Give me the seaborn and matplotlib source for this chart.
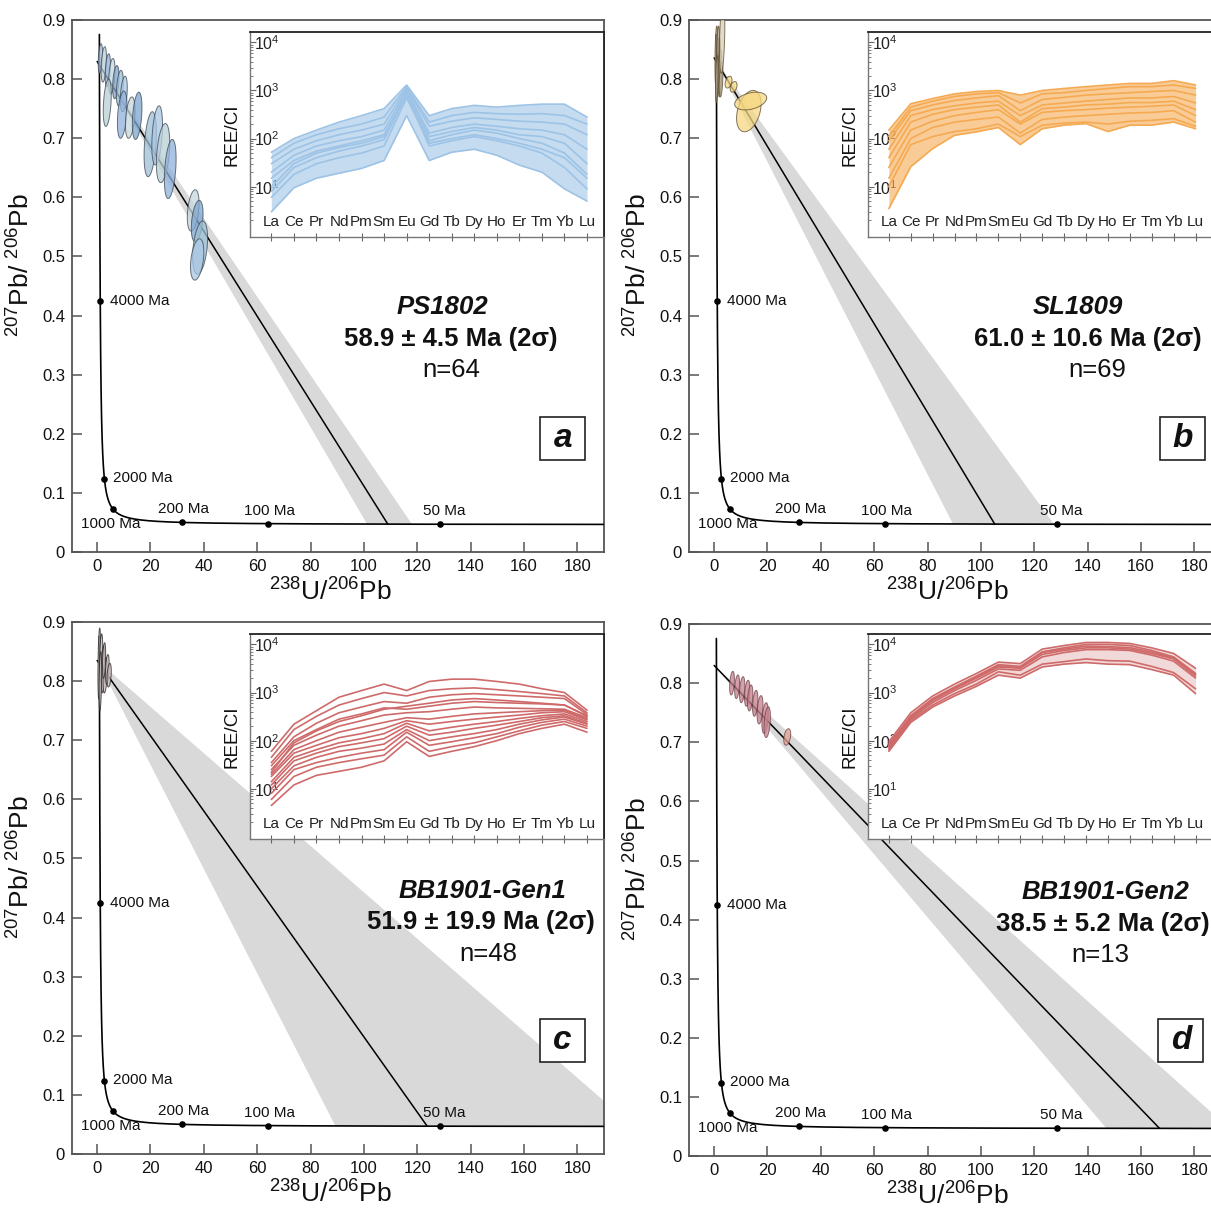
import numpy as np
import pandas as pd
import seaborn as sns
import matplotlib.pyplot as plt
from matplotlib.patches import Polygon, Rectangle

sns.set_theme(style='ticks')
plt.rcParams['font.family'] = ['Liberation Sans', 'DejaVu Sans']
plt.rcParams['mathtext.fontset'] = 'custom'
plt.rcParams['mathtext.rm'] = 'Liberation Sans'
plt.rcParams['mathtext.it'] = 'Liberation Sans:italic'
plt.rcParams['mathtext.bf'] = 'Liberation Sans:bold'

# decay constants for the Tera-Wasserburg concordia
L238 = 1.55125e-10
L235 = 9.8485e-10
U_RATIO = 137.88

# samples
samples = ['PS1802', 'SL1809', 'BB1901-Gen1', 'BB1901-Gen2']
ages = [58.9, 61.0, 51.9, 38.5]
age_err = [4.5, 10.6, 19.9, 5.2]
n_spots = [64, 69, 48, 13]
pb_common = [0.830, 0.836, 0.835, 0.830]   # 207Pb/206Pb intercept
letters = ['a', 'b', 'c', 'd']

mark_ages = [4000, 2000, 1000, 200, 100, 50]
x_ticks = [0, 20, 40, 60, 80, 100, 120, 140, 160, 180]
y_ticks = [0, 0.1, 0.2, 0.3, 0.4, 0.5, 0.6, 0.7, 0.8, 0.9]
y_ticklabels = ['0', '0.1', '0.2', '0.3', '0.4', '0.5', '0.6', '0.7', '0.8', '0.9']

# ellipses: centre x, centre y, half-width x, half-height y
ell_a_x = [1.2, 2.5, 4.0, 5.5, 7.0, 8.5, 10.0, 3.8, 9.4, 12.4, 15.0, 19.9, 22.5, 24.7, 27.4, 36.0, 37.5, 38.6, 37.5]
ell_a_y = [0.835, 0.825, 0.815, 0.805, 0.795, 0.785, 0.775, 0.760, 0.740, 0.735, 0.738, 0.690, 0.705, 0.675, 0.648, 0.578, 0.560, 0.515, 0.495]
ell_a_sx = [0.8, 1.0, 1.0, 1.2, 1.2, 1.3, 1.3, 1.5, 1.8, 1.8, 1.8, 2.3, 2.0, 2.5, 2.2, 2.2, 2.2, 2.8, 2.5]
ell_a_sy = [0.025, 0.030, 0.028, 0.030, 0.028, 0.030, 0.030, 0.040, 0.040, 0.035, 0.040, 0.055, 0.050, 0.050, 0.050, 0.035, 0.035, 0.045, 0.035]

ell_b_x = [0.8, 1.3, 1.8, 2.2, 1.5, 2.6, 1.0, 3.0, 5.4, 7.3, 13.0, 13.7]
ell_b_y = [0.840, 0.820, 0.830, 0.810, 0.860, 0.800, 0.800, 0.870, 0.795, 0.787, 0.746, 0.763]
ell_b_sx = [0.5, 0.6, 0.6, 0.7, 0.5, 0.7, 0.5, 1.0, 1.3, 1.3, 4.6, 6.0]
ell_b_sy = [0.050, 0.050, 0.040, 0.040, 0.030, 0.030, 0.040, 0.060, 0.010, 0.009, 0.035, 0.015]

ell_c_x = [0.8, 1.5, 2.2, 3.0, 3.8, 4.5, 1.2, 2.6]
ell_c_y = [0.830, 0.840, 0.820, 0.810, 0.820, 0.810, 0.800, 0.835]
ell_c_sx = [0.5, 0.6, 0.7, 0.8, 0.7, 0.8, 0.5, 0.6]
ell_c_sy = [0.060, 0.040, 0.040, 0.030, 0.025, 0.020, 0.050, 0.030]

ell_d_x = [6.7, 8.6, 10.5, 12.4, 13.5, 15.4, 17.2, 19.1, 19.9, 27.4]
ell_d_y = [0.800, 0.794, 0.789, 0.783, 0.775, 0.766, 0.755, 0.741, 0.734, 0.709]
ell_d_sx = [0.9, 0.9, 1.0, 1.0, 1.0, 1.0, 1.1, 1.2, 1.2, 1.3]
ell_d_sy = [0.020, 0.020, 0.022, 0.022, 0.022, 0.022, 0.024, 0.026, 0.026, 0.014]

# chondrite-normalised REE patterns
ree = ['La', 'Ce', 'Pr', 'Nd', 'Pm', 'Sm', 'Eu', 'Gd', 'Tb', 'Dy', 'Ho', 'Er', 'Tm', 'Yb', 'Lu']
ree_a = [
    [52, 100, 150, 220, 300, 420, 1300, 300, 420, 490, 450, 490, 520, 520, 280],
    [40, 80, 120, 160, 200, 280, 1200, 220, 300, 350, 330, 320, 330, 300, 200],
    [30, 60, 90, 120, 150, 200, 1100, 180, 230, 270, 250, 230, 220, 200, 120],
    [20, 45, 70, 90, 110, 150, 1000, 130, 170, 200, 180, 160, 150, 120, 60],
    [15, 35, 55, 70, 90, 120, 850, 90, 120, 150, 130, 100, 80, 50, 18],
    [10, 30, 50, 65, 80, 110, 900, 110, 140, 170, 150, 120, 110, 80, 30],
    [8, 25, 40, 55, 70, 95, 800, 70, 90, 110, 90, 70, 50, 25, 9],
    [6, 18, 30, 40, 50, 70, 700, 80, 100, 120, 100, 80, 60, 40, 15],
    [3, 9.5, 15, 19, 24, 35, 300, 35, 52, 60, 45, 28, 20, 9, 5],
]
ree_b = [
    [150, 530, 680, 850, 950, 1000, 800, 1000, 1100, 1200, 1300, 1400, 1400, 1600, 1300],
    [110, 450, 600, 750, 850, 900, 550, 850, 900, 1000, 1100, 1200, 1200, 1300, 1100],
    [90, 380, 500, 620, 700, 780, 380, 650, 720, 800, 850, 900, 950, 1000, 800],
    [60, 300, 400, 480, 550, 600, 300, 500, 550, 600, 650, 700, 700, 750, 550],
    [40, 220, 320, 400, 450, 500, 220, 420, 450, 500, 520, 560, 560, 600, 400],
    [25, 150, 230, 300, 350, 400, 200, 350, 380, 400, 430, 450, 470, 500, 300],
    [15, 100, 170, 220, 250, 280, 130, 250, 280, 300, 320, 340, 350, 380, 220],
    [10, 75, 110, 140, 160, 200, 110, 190, 210, 220, 200, 230, 240, 260, 180],
    [3.5, 26, 62, 117, 138, 170, 75, 160, 190, 205, 140, 190, 190, 220, 160],
]
ree_c = [
    [60, 220, 420, 800, 1100, 1500, 1100, 1700, 1900, 1900, 1700, 1500, 1200, 1000, 430],
    [45, 170, 320, 550, 750, 1000, 850, 1100, 1200, 1250, 1150, 1050, 950, 850, 380],
    [35, 120, 230, 380, 500, 650, 600, 800, 900, 950, 900, 850, 800, 750, 350],
    [22, 90, 160, 250, 330, 450, 520, 600, 700, 750, 700, 650, 600, 550, 320],
    [30, 100, 170, 280, 360, 480, 450, 520, 600, 650, 620, 600, 580, 550, 330],
    [25, 80, 130, 200, 260, 340, 380, 400, 450, 500, 480, 470, 460, 450, 300],
    [20, 65, 100, 150, 190, 240, 300, 280, 320, 360, 380, 400, 420, 430, 280],
    [18, 55, 80, 115, 140, 180, 260, 220, 250, 280, 310, 340, 380, 400, 270],
    [14, 45, 65, 90, 110, 140, 230, 160, 190, 220, 250, 290, 330, 360, 250],
    [12, 38, 55, 75, 90, 110, 200, 130, 150, 180, 210, 250, 300, 330, 230],
    [10, 30, 45, 60, 70, 85, 170, 100, 120, 140, 170, 220, 270, 310, 220],
    [8, 25, 35, 45, 55, 65, 150, 80, 95, 115, 140, 190, 240, 280, 200],
    [6, 18, 28, 35, 42, 50, 120, 60, 75, 90, 120, 160, 210, 250, 180],
    [4.5, 12, 19, 23, 28, 38, 95, 47, 60, 75, 100, 140, 180, 220, 150],
]
ree_d = [
    [95, 380, 850, 1500, 2500, 4300, 4000, 8000, 9500, 11000, 11000, 10500, 8500, 6500, 3200],
    [85, 330, 750, 1300, 2200, 3800, 3500, 7000, 8500, 10000, 10000, 9500, 7500, 5500, 2500],
    [80, 320, 700, 1250, 2100, 3600, 3300, 6800, 8000, 9200, 9000, 8600, 7000, 5200, 2400],
    [75, 300, 680, 1200, 2000, 3400, 3200, 6200, 7500, 8500, 8500, 8000, 6500, 5000, 2200],
    [70, 280, 620, 1100, 1800, 3100, 2900, 5500, 6800, 7800, 7800, 7500, 6000, 4500, 2000],
    [65, 260, 550, 950, 1500, 2700, 2300, 3900, 4400, 5000, 4600, 4500, 3500, 2600, 1200],
    [60, 240, 500, 850, 1350, 2300, 2000, 3400, 3900, 4200, 3900, 3800, 3000, 2300, 950],
]


def tw_ratios(t_ma):
    t = np.asarray(t_ma, dtype=float) * 1e6
    e8 = np.exp(L238 * t) - 1
    e5 = np.exp(L235 * t) - 1
    return 1 / e8, e5 / e8 / U_RATIO


def ellipse_pts(cx, cy, sx, sy, rho, n=60):
    th = np.linspace(0, 2 * np.pi, n)
    x = cx + sx * np.cos(th)
    y = cy + sy * (rho * np.cos(th) + np.sqrt(1 - rho ** 2) * np.sin(th))
    return np.column_stack([x, y])


panels = [
    dict(ell=(ell_a_x, ell_a_y, ell_a_sx, ell_a_sy), ree=ree_a, ree_col='#9dc3e6', fill_alpha=0.6,
         fills=['#a9c6e3', '#b9d0d6', '#8fb0dc', '#c5d8de', '#7da5cf', '#9cc0d6'], edge='#3c4650'),
    dict(ell=(ell_b_x, ell_b_y, ell_b_sx, ell_b_sy), ree=ree_b, ree_col='#f5aa52', fill_alpha=0.6,
         fills=['#b5a890'] * 7 + ['#d8ceb4'] + ['#f6d882'] * 4, edge='#5a4a30'),
    dict(ell=(ell_c_x, ell_c_y, ell_c_sx, ell_c_sy), ree=ree_c, ree_col='#cf6a6a', fill_alpha=0.0,
         fills=['#c9bcbc'], edge='#222222'),
    dict(ell=(ell_d_x, ell_d_y, ell_d_sx, ell_d_sy), ree=ree_d, ree_col='#cf6a6a', fill_alpha=0.25,
         fills=['#c9818f'] * 9 + ['#e0a08a'], edge='#6a4048'),
]

main_pos = [[0.0595, 0.5434, 0.4393, 0.4400],
            [0.5690, 0.5434, 0.4393, 0.4400],
            [0.0595, 0.0455, 0.4393, 0.4400],
            [0.5690, 0.0438, 0.4393, 0.4400]]
inset_pos = [[0.2064, 0.8040, 0.2923, 0.1696],
             [0.7168, 0.8040, 0.2840, 0.1696],
             [0.2064, 0.3060, 0.2923, 0.1696],
             [0.7168, 0.3060, 0.2840, 0.1696]]
text_pos = [[(0.697, 0.4605), (0.711, 0.400), (0.712, 0.342)],
            [(0.731, 0.4605), (0.750, 0.400), (0.767, 0.342)],
            [(0.771, 0.494), (0.769, 0.436), (0.782, 0.376)],
            [(0.782, 0.496), (0.778, 0.436), (0.773, 0.378)]]
box_pos = [(0.880, 0.173), (0.885, 0.173), (0.880, 0.173), (0.882, 0.177)]
label_offsets = {4000: (10, 0, 'left'), 2000: (9, 1, 'left'), 1000: (-2, -15, 'center'),
                 200: (2, 13, 'center'), 100: (2, 13, 'center'), 50: (4, 13, 'center')}

fig = plt.figure(figsize=(12.11, 12.09), dpi=100)

for k, p in enumerate(panels):
    ax = fig.add_axes(main_pos[k])

    # error envelope and discordia
    t_env = np.linspace(ages[k] - age_err[k], ages[k] + age_err[k], 60)
    ex, ey = tw_ratios(t_env)
    env = np.vstack([[0, pb_common[k]], np.column_stack([ex, ey])])
    ax.add_patch(Polygon(env, closed=True, facecolor='#d9d9d9', edgecolor='none', zorder=1))
    lx, ly = tw_ratios(ages[k])
    ax.plot([0, lx], [pb_common[k], ly], color='black', lw=1.1, zorder=2)

    # concordia
    t_conc = np.geomspace(30, 5050, 1500)
    cx, cy = tw_ratios(t_conc)
    sns.lineplot(x=cx, y=cy, sort=False, color='black', lw=1.2, ax=ax, zorder=3)
    mx, my = tw_ratios(mark_ages)
    ax.scatter(mx, my, s=14, color='black', zorder=4)
    for age, x0, y0 in zip(mark_ages, mx, my):
        dx, dy, ha = label_offsets[age]
        ax.annotate(f'{age} Ma', (x0, y0), xytext=(dx, dy), textcoords='offset pixels',
                    ha=ha, va='center', fontsize=11, color='#111111', zorder=5)

    # analysis ellipses
    exs, eys, esx, esy = p['ell']
    for i in range(len(exs)):
        pts = ellipse_pts(exs[i], eys[i], esx[i], esy[i], 0.35)
        col = p['fills'][i % len(p['fills'])]
        ax.add_patch(Polygon(pts, closed=True, facecolor=col, alpha=0.75,
                             edgecolor=p['edge'], lw=0.7, zorder=6))

    ax.set_xlim(-9.4, 190)
    ax.set_ylim(0, 0.9)
    ax.set_xticks(x_ticks)
    ax.set_yticks(y_ticks, y_ticklabels)
    ax.tick_params(direction='in', length=7, width=1.1, color='#555555', labelsize=12,
                   labelcolor='#111111', pad=5)
    for sp in ax.spines.values():
        sp.set_color('#555555')
        sp.set_linewidth(1.3)
    ax.set_xlabel(r'$^{238}$U/$^{206}$Pb', fontsize=19, color='#111111')
    ax.set_ylabel(r'$^{207}$Pb/ $^{206}$Pb', fontsize=19, color='#111111')
    ax.xaxis.set_label_coords(0.485, -0.05)
    ax.yaxis.set_label_coords(-0.071, 0.54)

    # sample text
    (t1, t2, t3) = text_pos[k]
    ax.text(*t1, samples[k], transform=ax.transAxes, ha='center', va='center',
            fontsize=18.5, fontweight='bold', fontstyle='italic', color='#111111')
    ax.text(*t2, f'{ages[k]} ± {age_err[k]} Ma (2σ)', transform=ax.transAxes, ha='center',
            va='center', fontsize=18.5, fontweight='bold', color='#111111')
    ax.text(*t3, f'n={n_spots[k]}', transform=ax.transAxes, ha='center', va='center',
            fontsize=18.5, color='#111111')
    bx, by = box_pos[k]
    ax.add_patch(Rectangle((bx, by), 0.0846, 0.081, transform=ax.transAxes, facecolor='white',
                           edgecolor='#222222', lw=1.2, zorder=7))
    ax.text(bx + 0.0423, by + 0.040, letters[k], transform=ax.transAxes, ha='center', va='center',
            fontsize=24, fontweight='bold', fontstyle='italic', color='#111111', zorder=8)

    # REE inset
    ai = fig.add_axes(inset_pos[k])
    df = pd.DataFrame([(i, j, v) for i, row in enumerate(p['ree']) for j, v in enumerate(row)],
                      columns=['spot', 'elem', 'val'])
    lo = df.groupby('elem')['val'].min()
    hi = df.groupby('elem')['val'].max()
    if p['fill_alpha'] > 0:
        ai.fill_between(lo.index, lo.values, hi.values, color=p['ree_col'], alpha=p['fill_alpha'], lw=0)
    sns.lineplot(data=df, x='elem', y='val', units='spot', estimator=None, color=p['ree_col'],
                 lw=1.2, ax=ai, legend=False)
    ai.set_yscale('log')
    ai.set_xlim(-0.95, 14.75)
    ai.set_ylim(0.9, 1.65e4)
    ai.set_xticks(range(len(ree)), ree)
    ai.set_yticks([10, 100, 1000, 10000])
    ai.set_xlabel('')
    ai.set_ylabel('REE/CI', fontsize=13.5, color='#111111')
    ai.yaxis.set_label_coords(-0.028, 0.5)
    ai.tick_params(axis='x', direction='inout', length=6, width=0.8, color='#666666',
                   pad=-19, labelsize=11, labelcolor='#222222')
    ai.tick_params(axis='y', which='major', direction='in', length=4, width=0.8, color='#666666',
                   pad=-3, labelsize=11.5, labelcolor='#222222')
    ai.tick_params(axis='y', which='minor', direction='in', length=2.5, width=0.6, color='#666666')
    plt.setp(ai.get_yticklabels(), ha='left')
    for name, sp in ai.spines.items():
        if name in ('top', 'right'):
            sp.set_color('#222222')
            sp.set_linewidth(1.3)
        else:
            sp.set_color('#777777')
            sp.set_linewidth(1.0)
    ai.set_facecolor('white')

fig.savefig('out.png', dpi=100)
